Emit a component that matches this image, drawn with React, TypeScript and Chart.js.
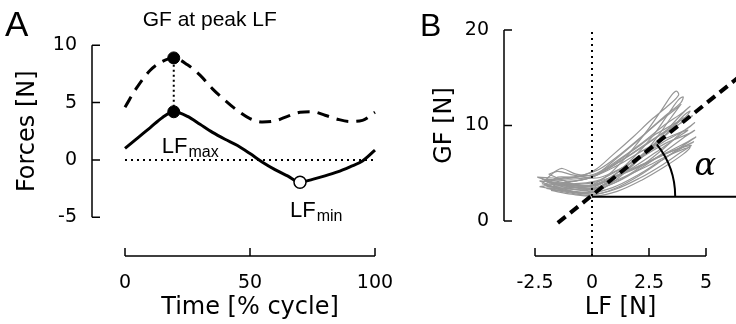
import React, { useEffect, useRef } from "react";
import { Chart, registerables } from "chart.js";

Chart.register(...registerables);

// ---------- Panel A data ----------
const cycleTime = [0, 5, 10, 15, 19.5, 25, 30, 35, 40, 45, 50, 55, 60, 65, 70, 75, 80, 85, 90, 95, 100];
const loadForce = [1.0, 1.9, 2.8, 3.7, 4.2, 3.8, 3.1, 2.4, 1.8, 1.25, 0.55, -0.2, -0.85, -1.4, -1.95, -1.7, -1.4, -1.05, -0.6, -0.1, 0.85];
const gripForce = [4.6, 6.4, 7.8, 8.6, 8.9, 8.3, 7.4, 6.2, 5.2, 4.3, 3.6, 3.3, 3.4, 3.8, 4.15, 4.2, 3.9, 3.55, 3.35, 3.45, 4.15];
const peakTime = 19.5;
const lfMaxValue = 4.2;
const gfAtPeakValue = 8.9;
const lfMinTime = 70;
const lfMinValue = -1.95;
const zeroLineTime = [0, 100];
const forceTicks = [-5, 0, 5, 10];
const timeTicks = [0, 50, 100];

// ---------- Panel B data ----------
// each trial: list of [LF, GF] points (closed loop)
const trialLoops: number[][][] = [
  [[-1.9, 4.0], [-1.0, 3.6], [0, 3.8], [0.8, 5.0], [1.6, 7.0], [2.4, 9.4], [3.1, 11.8], [3.5, 13.2], [3.7, 13.6], [3.8, 13.2], [3.4, 12.2], [2.6, 10.6], [1.8, 8.8], [0.9, 6.9], [0.1, 5.3], [-0.7, 4.6], [-1.5, 4.6], [-1.9, 4.0]],
  [[-2.1, 3.8], [-1.2, 3.4], [0, 3.5], [0.9, 4.7], [1.8, 6.6], [2.7, 9.0], [3.4, 11.4], [3.8, 12.7], [4.0, 13.0], [3.9, 12.4], [3.2, 11.0], [2.3, 9.1], [1.3, 7.1], [0.3, 5.4], [-0.6, 4.7], [-1.6, 4.4], [-2.1, 3.8]],
  [[-2.2, 4.4], [-1.3, 3.6], [-0.2, 3.2], [0.8, 4.2], [1.8, 5.9], [2.8, 8.0], [3.6, 10.0], [4.1, 11.2], [4.3, 11.5], [4.1, 10.9], [3.2, 9.4], [2.2, 7.8], [1.2, 6.2], [0.2, 4.8], [-0.7, 4.2], [-1.6, 4.3], [-2.2, 4.4]],
  [[-2.3, 4.2], [-1.4, 3.3], [-0.3, 2.9], [0.8, 3.8], [1.9, 5.3], [3.0, 7.3], [3.9, 9.2], [4.4, 10.1], [4.5, 10.3], [4.2, 9.7], [3.3, 8.5], [2.3, 7.0], [1.2, 5.4], [0.2, 4.2], [-0.9, 3.9], [-1.8, 4.1], [-2.3, 4.2]],
  [[-2.0, 3.4], [-1.1, 3.0], [0, 2.7], [1.0, 3.4], [2.1, 4.8], [3.1, 6.4], [4.0, 7.9], [4.5, 8.7], [4.55, 8.8], [4.2, 8.3], [3.3, 7.2], [2.2, 5.9], [1.1, 4.7], [0.1, 3.7], [-1.0, 3.5], [-2.0, 3.4]],
  [[-1.8, 3.2], [-0.9, 2.8], [0.1, 2.6], [1.1, 3.1], [2.2, 4.3], [3.2, 5.7], [4.0, 7.0], [4.3, 7.7], [4.1, 7.6], [3.3, 6.8], [2.3, 5.6], [1.2, 4.4], [0.2, 3.5], [-0.8, 3.3], [-1.8, 3.2]],
  [[-2.4, 4.6], [-1.5, 3.9], [-0.4, 3.5], [0.7, 4.2], [1.8, 5.6], [2.8, 7.2], [3.7, 8.7], [4.2, 9.5], [4.0, 9.4], [3.1, 8.5], [2.1, 7.2], [1.1, 5.8], [0.1, 4.7], [-0.8, 4.4], [-1.7, 4.5], [-2.4, 4.6]],
  [[-2.0, 4.4], [-1.2, 4.0], [-0.1, 3.7], [0.9, 4.7], [1.9, 6.4], [2.9, 8.3], [3.8, 10.1], [4.3, 10.9], [4.4, 11.0], [4.0, 10.4], [3.0, 9.0], [2.0, 7.4], [1.0, 5.9], [0.1, 4.8], [-0.7, 4.9], [-1.3, 5.5], [-1.6, 5.2], [-2.0, 4.4]],
  [[-1.7, 3.7], [-0.8, 3.1], [0.2, 3.1], [1.1, 4.4], [2.0, 6.3], [2.8, 8.6], [3.4, 10.6], [3.8, 11.9], [3.9, 12.2], [3.6, 11.6], [2.8, 10.1], [1.9, 8.2], [0.9, 6.2], [0.0, 4.6], [-1.0, 4.1], [-1.7, 3.7]],
  [[-2.2, 3.9], [-1.3, 3.3], [-0.2, 2.9], [0.9, 3.5], [2.0, 4.8], [3.0, 6.3], [3.9, 7.6], [4.4, 8.2], [4.45, 8.3], [4.1, 7.9], [3.2, 7.0], [2.2, 5.9], [1.1, 4.8], [0.0, 4.0], [-1.1, 3.8], [-2.2, 3.9]],
  [[-2.3, 3.6], [-1.4, 3.2], [-0.3, 3.0], [0.7, 4.0], [1.7, 5.7], [2.7, 7.8], [3.5, 9.7], [3.95, 10.7], [4.0, 10.8], [3.7, 10.3], [2.8, 9.1], [1.8, 7.4], [0.8, 5.7], [-0.1, 4.5], [-1.2, 4.0], [-2.3, 3.6]],
  [[-1.9, 4.9], [-1.2, 4.2], [-0.2, 3.4], [0.9, 3.9], [2.0, 5.3], [3.1, 7.1], [4.0, 8.7], [4.45, 9.4], [4.5, 9.5], [4.2, 9.1], [3.2, 8.1], [2.2, 6.7], [1.1, 5.3], [0.2, 4.5], [-0.8, 4.8], [-1.5, 5.2], [-1.9, 4.9]],
  [[-2.1, 4.2], [-1.1, 3.7], [0, 3.3], [0.9, 4.4], [1.9, 6.2], [2.9, 8.5], [3.7, 10.6], [4.2, 11.8], [4.3, 12.0], [4.0, 11.4], [3.1, 9.9], [2.1, 8.0], [1.1, 6.3], [0.2, 5.0], [-0.9, 4.5], [-2.1, 4.2]],
  [[-2.0, 3.6], [-1.0, 3.1], [0, 2.8], [1.0, 3.3], [2.1, 4.5], [3.1, 5.9], [3.9, 7.2], [4.35, 7.9], [4.1, 7.8], [3.2, 7.0], [2.2, 5.8], [1.1, 4.7], [0.1, 3.8], [-1.0, 3.7], [-2.0, 3.6]],
];
const fitLF = [-1.5, 6.4];
const fitGF = [-0.2, 15.0];
const baselineLF = [0, 6.6];
const baselineGF = [2.55, 2.55];
const zeroLF = [0, 0];
const zeroLineGF = [19.8, -3.7];
const lfTicks = [-2.5, 0, 2.5, 5];
const gfTicks = [0, 10, 20];

const TICK_FONT = '19px "DejaVu Sans"';
const TITLE_FONT = '24px "DejaVu Sans"';
const ANNOT = '"Liberation Sans", Arial, sans-serif';

type SpineCfg = {
  xTicks: number[];
  yTicks: number[];
  xTitle: string;
  yTitle: string;
  yTitleX: number;
  letter: string;
  letterX: number;
  letterFont: string;
};

function fmt(v: number) {
  return String(v);
}

function spinesPlugin(cfg: SpineCfg) {
  return {
    id: "spines",
    afterDraw(chart: any) {
      const { ctx, chartArea, scales } = chart;
      const xs = scales.x;
      const ys = scales.y;
      const ax = chartArea.left;
      const ay = chartArea.bottom;
      ctx.save();
      ctx.strokeStyle = "#000";
      ctx.fillStyle = "#000";
      ctx.lineWidth = 1.5;
      ctx.setLineDash([]);
      const yT = ys.getPixelForValue(cfg.yTicks[cfg.yTicks.length - 1]);
      const yB = ys.getPixelForValue(cfg.yTicks[0]);
      ctx.beginPath();
      ctx.moveTo(ax, yT);
      ctx.lineTo(ax, yB);
      for (const t of cfg.yTicks) {
        const p = ys.getPixelForValue(t);
        ctx.moveTo(ax, p);
        ctx.lineTo(ax + 8, p);
      }
      const xL = xs.getPixelForValue(cfg.xTicks[0]);
      const xR = xs.getPixelForValue(cfg.xTicks[cfg.xTicks.length - 1]);
      ctx.moveTo(xL, ay);
      ctx.lineTo(xR, ay);
      for (const t of cfg.xTicks) {
        const p = xs.getPixelForValue(t);
        ctx.moveTo(p, ay);
        ctx.lineTo(p, ay - 8);
      }
      ctx.stroke();

      ctx.font = TICK_FONT;
      ctx.textAlign = "right";
      ctx.textBaseline = "middle";
      for (const t of cfg.yTicks) {
        ctx.fillText(fmt(t), ax - 15, ys.getPixelForValue(t));
      }
      ctx.textAlign = "center";
      for (const t of cfg.xTicks) {
        ctx.fillText(fmt(t), xs.getPixelForValue(t), ay + 27);
      }
      ctx.font = TITLE_FONT;
      ctx.textBaseline = "alphabetic";
      ctx.fillText(cfg.xTitle, (xL + xR) / 2, ay + 58);
      ctx.save();
      ctx.translate(cfg.yTitleX, (yT + yB) / 2);
      ctx.rotate(-Math.PI / 2);
      ctx.fillText(cfg.yTitle, 0, 0);
      ctx.restore();
      ctx.font = cfg.letterFont;
      ctx.textAlign = "left";
      ctx.fillText(cfg.letter, cfg.letterX, 36);
      ctx.restore();
    },
  };
}

const annotA = {
  id: "annotA",
  afterDraw(chart: any) {
    const { ctx, scales } = chart;
    const xs = scales.x;
    const ys = scales.y;
    ctx.save();
    ctx.fillStyle = "#000";
    ctx.textBaseline = "alphabetic";
    ctx.font = `21px ${ANNOT}`;
    ctx.textAlign = "center";
    const pk = xs.getPixelForValue(peakTime);
    ctx.fillText("GF at peak LF", pk + 36, 26);
    const maxY = ys.getPixelForValue(lfMaxValue);
    ctx.textAlign = "left";
    ctx.font = `22px ${ANNOT}`;
    const lx = pk - 12;
    ctx.fillText("LF", lx, maxY + 41);
    const w1 = ctx.measureText("LF").width;
    ctx.font = `16px ${ANNOT}`;
    ctx.fillText("max", lx + w1 + 1, maxY + 45);
    const mnX = xs.getPixelForValue(lfMinTime);
    const mnY = ys.getPixelForValue(lfMinValue);
    ctx.font = `22px ${ANNOT}`;
    const lx2 = mnX - 10;
    ctx.fillText("LF", lx2, mnY + 35);
    const w2 = ctx.measureText("LF").width;
    ctx.font = `16px ${ANNOT}`;
    ctx.fillText("min", lx2 + w2 + 1, mnY + 39);
    ctx.restore();
  },
};

const annotB = {
  id: "annotB",
  afterDatasetsDraw(chart: any) {
    const { ctx, scales } = chart;
    const xs = scales.x;
    const ys = scales.y;
    const cx = xs.getPixelForValue(baselineLF[0]);
    const cy = ys.getPixelForValue(baselineGF[0]);
    const x1 = xs.getPixelForValue(fitLF[0]);
    const y1 = ys.getPixelForValue(fitGF[0]);
    const x2 = xs.getPixelForValue(fitLF[1]);
    const y2 = ys.getPixelForValue(fitGF[1]);
    const theta = Math.atan2(y1 - y2, x2 - x1);
    const r = xs.getPixelForValue(3.65) - cx;
    ctx.save();
    ctx.strokeStyle = "#000";
    ctx.lineWidth = 2;
    ctx.beginPath();
    ctx.arc(cx, cy, r, -theta, 0);
    ctx.stroke();
    ctx.fillStyle = "#000";
    ctx.font = 'italic 32px "DejaVu Serif"';
    ctx.textAlign = "center";
    ctx.textBaseline = "alphabetic";
    ctx.fillText("α", xs.getPixelForValue(4.97), ys.getPixelForValue(4.8));
    ctx.restore();
  },
};

function makeChartA(canvas: HTMLCanvasElement) {
  return new Chart(canvas, {
    type: "scatter",
    data: {
      datasets: [
        {
          label: "markers max",
          data: [
            { x: peakTime, y: gfAtPeakValue },
            { x: peakTime, y: lfMaxValue },
          ],
          showLine: false,
          pointRadius: 6,
          pointBackgroundColor: "#000",
          pointBorderColor: "#000",
          order: 0,
        },
        {
          label: "marker min",
          data: [{ x: lfMinTime, y: lfMinValue }],
          showLine: false,
          pointRadius: 6,
          pointBorderWidth: 1.5,
          pointBackgroundColor: "#fff",
          pointBorderColor: "#000",
          order: 0,
        },
        {
          label: "LF",
          data: cycleTime.map((t, i) => ({ x: t, y: loadForce[i] })),
          showLine: true,
          borderColor: "#000",
          borderWidth: 3,
          pointRadius: 0,
          cubicInterpolationMode: "monotone",
          order: 1,
        },
        {
          label: "GF",
          data: cycleTime.map((t, i) => ({ x: t, y: gripForce[i] })),
          showLine: true,
          borderColor: "#000",
          borderWidth: 3,
          borderDash: [12, 8],
          pointRadius: 0,
          cubicInterpolationMode: "monotone",
          order: 1,
        },
        {
          label: "zero",
          data: zeroLineTime.map((t) => ({ x: t, y: 0 })),
          showLine: true,
          borderColor: "#000",
          borderWidth: 2,
          borderDash: [2, 4],
          pointRadius: 0,
          order: 2,
        },
        {
          label: "peak link",
          data: [
            { x: peakTime, y: lfMaxValue },
            { x: peakTime, y: gfAtPeakValue },
          ],
          showLine: true,
          borderColor: "#000",
          borderWidth: 2,
          borderDash: [2, 3],
          pointRadius: 0,
          order: 2,
        },
      ],
    },
    options: {
      animation: false,
      responsive: false,
      events: [],
      layout: { padding: { left: 92, right: 336, top: 0, bottom: 68 } },
      plugins: { legend: { display: false }, tooltip: { enabled: false } },
      scales: {
        x: { type: "linear", display: false, min: -13.2, max: 110 },
        y: { type: "linear", display: false, min: -8.39, max: 13.3 },
      },
    },
    plugins: [
      spinesPlugin({
        xTicks: timeTicks,
        yTicks: forceTicks,
        xTitle: "Time [% cycle]",
        yTitle: "Forces [N]",
        yTitleX: 34,
        letter: "A",
        letterX: 5,
        letterFont: `35px ${ANNOT}`,
      }),
      annotA,
    ],
  } as any);
}

function makeChartB(canvas: HTMLCanvasElement) {
  const loops = trialLoops.map((loop, i) => ({
    label: `trial ${i + 1}`,
    data: loop.map((p) => ({ x: p[0], y: p[1] })),
    showLine: true,
    borderColor: "rgb(150,150,150)",
    borderWidth: 1.2,
    pointRadius: 0,
    tension: 0.35,
    order: 10,
  }));
  return new Chart(canvas, {
    type: "scatter",
    data: {
      datasets: [
        {
          label: "fit",
          data: fitLF.map((v, i) => ({ x: v, y: fitGF[i] })),
          showLine: true,
          borderColor: "#000",
          borderWidth: 4,
          borderDash: [10, 6],
          pointRadius: 0,
          order: 0,
        },
        {
          label: "baseline",
          data: baselineLF.map((v, i) => ({ x: v, y: baselineGF[i] })),
          showLine: true,
          borderColor: "#000",
          borderWidth: 2,
          pointRadius: 0,
          order: 1,
        },
        {
          label: "zero LF",
          data: zeroLF.map((v, i) => ({ x: v, y: zeroLineGF[i] })),
          showLine: true,
          borderColor: "#000",
          borderWidth: 2,
          borderDash: [2, 4],
          pointRadius: 0,
          order: 1,
        },
        ...loops,
      ],
    },
    options: {
      animation: false,
      responsive: false,
      events: [],
      layout: { padding: { left: 504, right: 0, top: 0, bottom: 68 } },
      plugins: { legend: { display: false }, tooltip: { enabled: false } },
      scales: {
        x: { type: "linear", display: false, min: -3.86, max: 6.316 },
        y: { type: "linear", display: false, min: -3.665, max: 23.14 },
      },
    },
    plugins: [
      spinesPlugin({
        xTicks: lfTicks,
        yTicks: gfTicks,
        xTitle: "LF [N]",
        yTitle: "GF [N]",
        yTitleX: 451,
        letter: "B",
        letterX: 420,
        letterFont: `32px ${ANNOT}`,
      }),
      annotB,
    ],
  } as any);
}

export default function App() {
  const refA = useRef<HTMLCanvasElement>(null);
  const refB = useRef<HTMLCanvasElement>(null);
  useEffect(() => {
    const a = makeChartA(refA.current!);
    const b = makeChartB(refB.current!);
    return () => {
      a.destroy();
      b.destroy();
    };
  }, []);
  const style: React.CSSProperties = {
    position: "absolute",
    left: 0,
    top: 0,
    width: 736,
    height: 324,
  };
  return (
    <div style={{ position: "fixed", left: 0, top: 0, width: 736, height: 324, background: "#fff" }}>
      <canvas ref={refA} width={736} height={324} style={style} />
      <canvas ref={refB} width={736} height={324} style={style} />
    </div>
  );
}
